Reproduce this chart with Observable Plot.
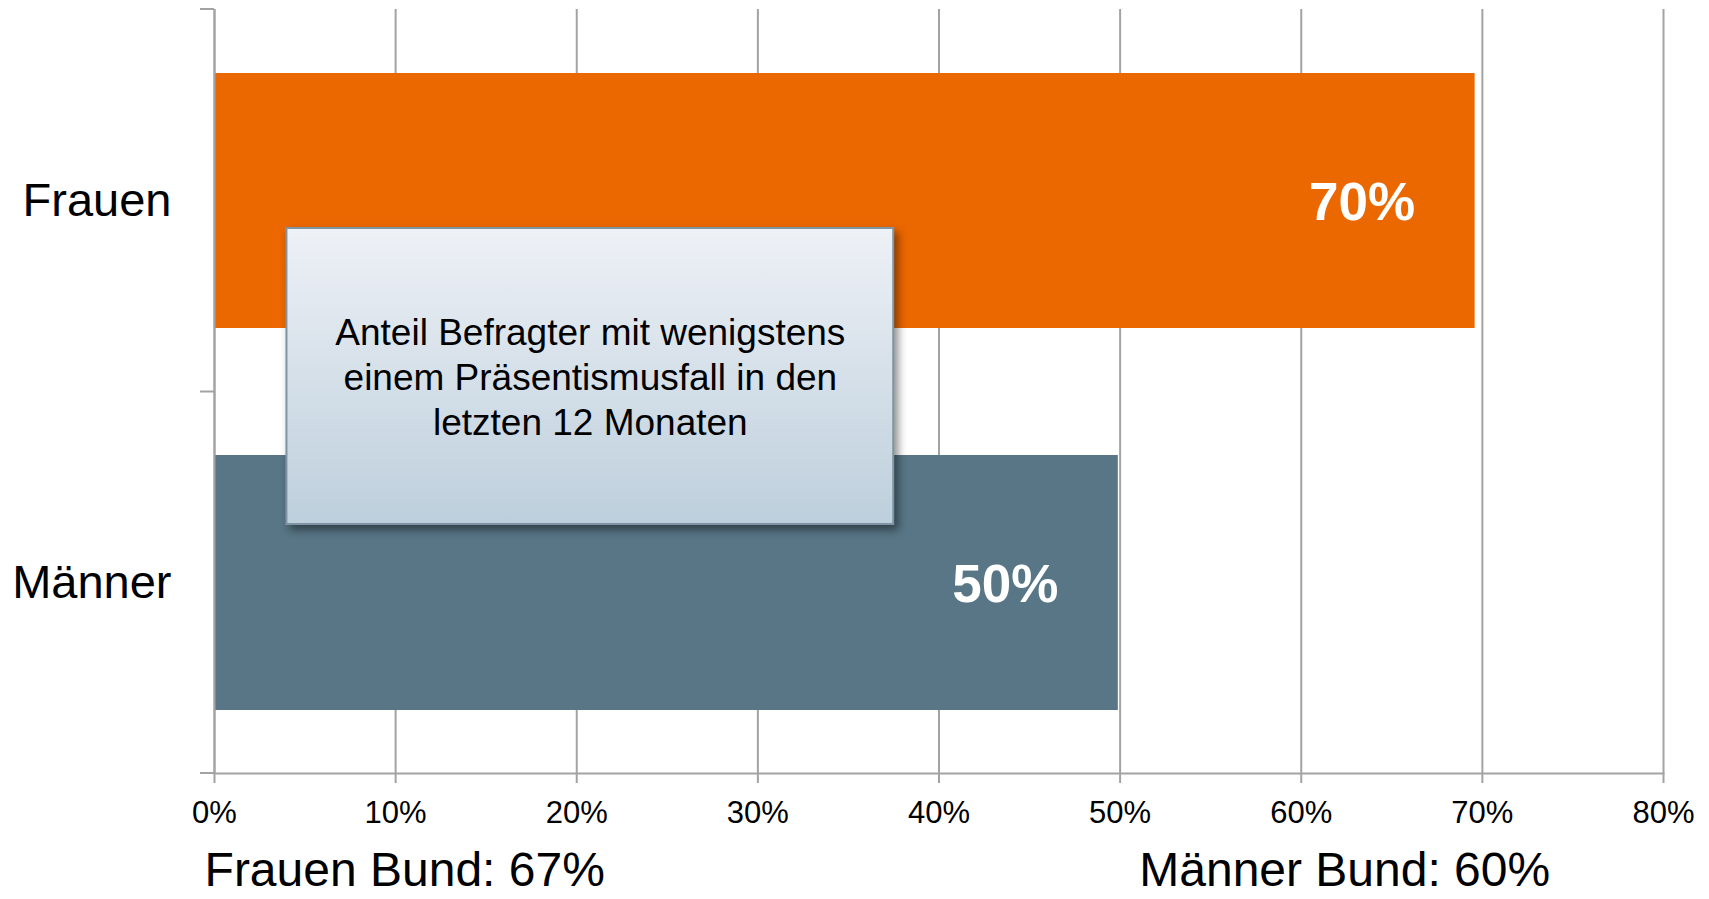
<!DOCTYPE html>
<html>
<head>
<meta charset="utf-8">
<script src="https://cdn.jsdelivr.net/npm/d3@7"></script>
<script src="https://cdn.jsdelivr.net/npm/@observablehq/plot@0.6"></script>
<style>
  html, body { margin: 0; padding: 0; background: #ffffff; }
  #chart svg { display: block; }
</style>
</head>
<body>
<div id="chart"></div>
<script>
// ---- data ----
const categories = ["Frauen", "Männer"];
const values = [69.6, 49.9];
const valueLabels = ["70%", "50%"];
const barColors = ["#EB6700", "#587686"];
const xTicks = [0, 10, 20, 30, 40, 50, 60, 70, 80];
const bundLabels = ["Frauen Bund: 67%", "Männer Bund: 60%"];
const bundCenters = [10.5, 62.4];
const boxLines = ["Anteil Befragter mit wenigstens", "einem Präsentismusfall in den", "letzten 12 Monaten"];
const boxSpan = [4, 37.5];

const bars = categories.map((c, i) => ({cat: c, value: values[i], label: valueLabels[i]}));
const bund = bundLabels.map((l, i) => ({label: l, x: bundCenters[i]}));
const box = [{x1: boxSpan[0], x2: boxSpan[1], text: boxLines.join("\n"), xc: (boxSpan[0] + boxSpan[1]) / 2}];

const gray = "#a3a3a3";

const plot = Plot.plot({
  width: 1709,
  height: 899,
  marginLeft: 214,
  marginRight: 46,
  marginTop: 9,
  marginBottom: 126,
  style: {fontFamily: "'Liberation Sans', Arial, sans-serif", background: "white", color: "black", overflow: "visible"},
  x: {domain: [0, 80], label: null},
  y: {type: "band", domain: categories, paddingInner: 1/3, paddingOuter: 1/6, label: null},
  color: {domain: categories, range: barColors},
  marks: [
    Plot.ruleX(xTicks, {stroke: gray, strokeWidth: 2}),
    Plot.barX(bars, {x: "value", y: "cat", fill: "cat"}),
    Plot.ruleX([0], {stroke: gray, strokeWidth: 2}),
    Plot.frame({anchor: "bottom", stroke: gray, strokeWidth: 2}),
    Plot.axisX({ticks: xTicks, tickFormat: d => d + "%", tickSize: 10, tickPadding: 17, fontSize: 31, stroke: gray, strokeWidth: 2, fill: "black", label: null}),
    Plot.axisY({tickSize: 0, tickPadding: 43, fontSize: 47, fill: "black", label: null}),
    Plot.text(bars, {x: "value", y: "cat", text: "label", textAnchor: "end", dx: -60, dy: 2, fill: "white", fontSize: 53, fontWeight: "bold"}),
    Plot.rect(box, {x1: "x1", x2: "x2", insetTop: 219, insetBottom: 249, fill: "#d5dfe8", stroke: "#7f95a6", strokeWidth: 2, ariaLabel: () => "annotation"}),
    Plot.text(box, {x: "xc", text: "text", frameAnchor: "middle", dy: -16, lineHeight: 1.22, fontSize: 37, fill: "black"}),
    Plot.text(bund, {x: "x", text: "label", frameAnchor: "bottom", dy: 112, fontSize: 48, fill: "black"})
  ]
});

// gradient + shadow for the annotation box
const svg = d3.select(plot);
const defs = svg.insert("defs", ":first-child");
const grad = defs.append("linearGradient").attr("id", "boxGrad").attr("x1", 0).attr("y1", 0).attr("x2", 0).attr("y2", 1);
grad.append("stop").attr("offset", "0%").attr("stop-color", "#eef1f6");
grad.append("stop").attr("offset", "100%").attr("stop-color", "#bdcfdc");
const boxRect = svg.selectAll('rect[aria-label="annotation"]');
boxRect
  .attr("fill", "url(#boxGrad)")
  .style("fill", "url(#boxGrad)")
  .style("filter", "drop-shadow(4px 5px 4px rgba(0,0,0,0.45))");

// short left tick marks at the category band boundaries, from the y scale
const ys = plot.scale("y");
const xs = plot.scale("x");
const x0 = xs.apply(0);
const yF = ys.apply(categories[0]);
const yM = ys.apply(categories[1]);
const bounds = [ys.range[0], (yF + ys.bandwidth + yM) / 2, ys.range[1]];
svg.append("g").attr("aria-label", "y-boundary-ticks")
  .selectAll("line").data(bounds).join("line")
  .attr("x1", x0 - 14).attr("x2", x0)
  .attr("y1", d => d).attr("y2", d => d)
  .attr("stroke", gray).attr("stroke-width", 2);

document.getElementById("chart").appendChild(plot);
</script>
</body>
</html>
